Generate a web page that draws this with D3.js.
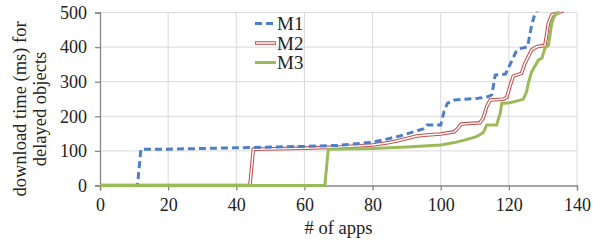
<!DOCTYPE html>
<html>
<head>
<meta charset="utf-8">
<script src="https://cdn.jsdelivr.net/npm/d3@7"></script>
<style>
  body { margin: 0; background: #fff; }
  text { font-family: "Liberation Serif", "Times New Roman", serif; fill: #222; }
</style>
</head>
<body>
<svg width="593" height="245"></svg>
<script>
// Data (x = # of apps, y = download time in ms)
const m1X = [0, 11, 12, 20, 40, 60, 70, 80, 85, 88, 92, 95, 96, 100, 101, 102, 104, 111, 114, 115, 116, 119, 121, 122, 123, 125.5, 126.7, 127.7, 129, 135];
const m1Y = [0, 0, 105, 105, 109, 113, 116, 125, 136, 143, 155, 164, 175, 175, 215, 238, 247, 252, 257, 262, 319, 322, 363, 385, 395, 401, 464, 498, 515, 530];

const m2X = [0, 44, 45, 60, 70, 80, 85, 88, 93, 96, 100, 104, 105, 106, 111.5, 112.5, 113.5, 114.5, 118.4, 119.4, 120.3, 121.3, 123.7, 124.7, 125.7, 126.7, 128.2, 130.6, 131.6, 132.6, 134.5, 136];
const m2Y = [0, 0, 105, 108, 111, 117, 124, 131, 143, 146, 149, 155, 165, 178, 181, 195, 228, 247, 249, 255, 286, 316, 324, 353, 372, 392, 401, 405, 469, 493, 500, 505];

const m3X = [0, 66, 67, 80, 90, 100, 104, 107, 110.5, 112.5, 113.5, 116.4, 117.5, 117.9, 120.3, 124.2, 125.2, 125.7, 126.7, 128.7, 129.7, 130.6, 131.6, 132.6, 133.5, 135];
const m3Y = [0, 0, 105, 107, 111, 117, 124, 131, 141, 153, 175, 175, 210, 237, 239, 249, 271, 295, 329, 363, 368, 397, 405, 469, 493, 500];

const seriesNames = ["M1", "M2", "M3"];
const xTicks = [0, 20, 40, 60, 80, 100, 120, 140];
const yTicks = [0, 100, 200, 300, 400, 500];

const svg = d3.select("svg");
const margin = {left: 100, top: 12.5, right: 16, bottom: 59.5};
const width = 593 - margin.left - margin.right;
const height = 245 - margin.top - margin.bottom;

const x = d3.scaleLinear().domain([0, 140]).range([0, width]);
const y = d3.scaleLinear().domain([0, 500]).range([height, 0]);

const g = svg.append("g").attr("transform", `translate(${margin.left},${margin.top})`);

// gridlines
g.append("g").selectAll("line.v").data(xTicks.slice(1)).join("line")
    .attr("x1", d => x(d)).attr("x2", d => x(d))
    .attr("y1", 0).attr("y2", height)
    .attr("stroke", "#d9d9d9").attr("stroke-width", 1);
g.append("g").selectAll("line.h").data(yTicks.slice(1)).join("line")
    .attr("x1", 0).attr("x2", width)
    .attr("y1", d => y(d)).attr("y2", d => y(d))
    .attr("stroke", "#d9d9d9").attr("stroke-width", 1);

// axes
const xAxis = g.append("g").attr("transform", `translate(0,${height})`)
    .call(d3.axisBottom(x).tickValues(xTicks).tickSize(5).tickPadding(8));
const yAxis = g.append("g")
    .call(d3.axisLeft(y).tickValues(yTicks).tickSize(5).tickPadding(8));
[xAxis, yAxis].forEach(a => {
    a.select(".domain").attr("stroke", "#868686").attr("stroke-width", 1.3);
    a.selectAll(".tick line").attr("stroke", "#868686").attr("stroke-width", 1.3);
    a.selectAll("text").attr("font-size", "18px")
        .attr("font-family", "'Liberation Serif', 'Times New Roman', serif").attr("fill", "#222");
});

// lines
svg.append("defs").append("clipPath").attr("id", "clip")
    .append("rect").attr("x", 0).attr("y", -1).attr("width", width + 2).attr("height", height + 3);

const line = d3.line().x(d => x(d[0])).y(d => y(d[1]));
const zip = (xs, ys) => xs.map((v, i) => [v, ys[i]]);

const plot = g.append("g").attr("clip-path", "url(#clip)");

plot.append("path").datum(zip(m2X, m2Y))
    .attr("d", line).attr("fill", "none")
    .attr("stroke", "#c0504d").attr("stroke-width", 3.6);
plot.append("path").datum(zip(m2X, m2Y))
    .attr("d", line).attr("fill", "none")
    .attr("stroke", "#fff").attr("stroke-width", 1.5);
plot.append("path").datum(zip(m1X, m1Y))
    .attr("d", line).attr("fill", "none")
    .attr("stroke", "#4f7ec9").attr("stroke-width", 3)
    .attr("stroke-dasharray", "7,4");
plot.append("path").datum(zip(m3X, m3Y))
    .attr("d", line).attr("fill", "none")
    .attr("stroke", "#9bbb59").attr("stroke-width", 3);

// legend
const legend = svg.append("g");
const legY = [23.5, 43, 62.5];
seriesNames.forEach((name, i) => {
    const row = legend.append("g").attr("transform", `translate(255,${legY[i]})`);
    if (i === 0) {
        row.append("line").attr("x1", 0).attr("x2", 21).attr("stroke", "#4f7ec9")
            .attr("stroke-width", 3).attr("stroke-dasharray", "7,4");
    } else if (i === 1) {
        row.append("line").attr("x1", 0).attr("x2", 21).attr("stroke", "#c0504d").attr("stroke-width", 3.6);
        row.append("line").attr("x1", 0.8).attr("x2", 20.2).attr("stroke", "#fff").attr("stroke-width", 1.5);
    } else {
        row.append("line").attr("x1", 0).attr("x2", 21).attr("stroke", "#9bbb59").attr("stroke-width", 3);
    }
    row.append("text").attr("x", 22).attr("y", 6.5).attr("font-size", "19px").text(name);
});

// axis titles
svg.append("text").attr("x", margin.left + width / 2).attr("y", 234)
    .attr("text-anchor", "middle").attr("font-size", "18.5px").text("# of apps");
const yt = svg.append("text").attr("transform", "translate(0,109) rotate(-90)")
    .attr("text-anchor", "middle").attr("font-size", "18.5px");
yt.append("tspan").attr("x", 0).attr("y", 26).text("download time (ms) for");
yt.append("tspan").attr("x", 0).attr("y", 46).text("delayed objects");
</script>
</body>
</html>
